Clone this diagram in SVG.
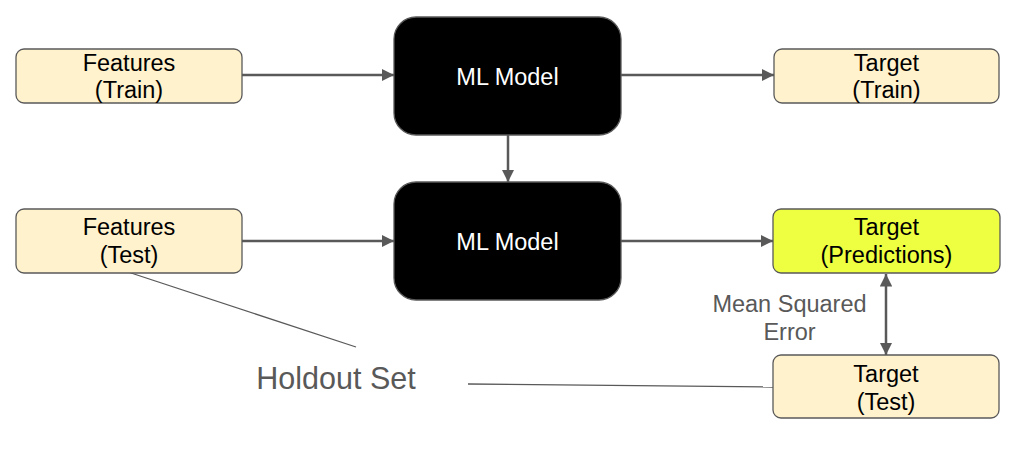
<svg xmlns="http://www.w3.org/2000/svg" width="1015" height="459" viewBox="0 0 1015 459">
<defs>
<marker id="ah" viewBox="0 0 10 10" refX="10" refY="5" markerWidth="5" markerHeight="5" orient="auto-start-reverse" markerUnits="strokeWidth">
<path d="M0,0 L10,5 L0,10 z" fill="#595959"/>
</marker>
<style>
.lt{fill:#fff2cc;stroke:#595959;stroke-width:1.3}
.pr{fill:#eeff41;stroke:#595959;stroke-width:1.3}
.ml{fill:#000000;stroke:#595959;stroke-width:1.3}
.t{font-family:"Liberation Sans",Arial,sans-serif;font-size:23.5px;text-anchor:middle;fill:#000}
.w{fill:#ffffff}
.g{font-family:"Liberation Sans",Arial,sans-serif;fill:#595959;text-anchor:middle}
.arr{stroke:#595959;stroke-width:2.5;fill:none;marker-end:url(#ah)}
.ln{stroke:#595959;stroke-width:1.3;fill:none}
</style>
</defs>
<g id="connectors">
<line class="arr" x1="242" y1="75" x2="394" y2="75"/>
<line class="arr" x1="621" y1="75" x2="774" y2="75"/>
<line class="arr" x1="508" y1="135" x2="508" y2="182"/>
<line class="arr" x1="242" y1="241" x2="394" y2="241"/>
<line class="arr" x1="621" y1="241" x2="773" y2="241"/>
<line class="arr" x1="886" y1="274" x2="886" y2="355" style="marker-start:url(#ah)"/>
<line class="ln" x1="128" y1="272" x2="356" y2="347"/>
<line class="ln" x1="468" y1="384" x2="773" y2="387"/>
</g>
<g id="features-train">
<rect class="lt" x="16" y="49" width="226" height="54" rx="8"/>
<text class="t" x="129" y="71">Features</text>
<text class="t" x="129" y="98">(Train)</text>
</g>
<g id="ml-model-1">
<rect class="ml" x="394" y="17" width="227" height="118" rx="22"/>
<text class="t w" x="507.5" y="85">ML Model</text>
</g>
<g id="target-train">
<rect class="lt" x="774" y="49" width="225" height="54" rx="8"/>
<text class="t" x="886.5" y="71">Target</text>
<text class="t" x="886.5" y="98">(Train)</text>
</g>
<g id="features-test">
<rect class="lt" x="16" y="209" width="226" height="64" rx="8"/>
<text class="t" x="129" y="235">Features</text>
<text class="t" x="129" y="263">(Test)</text>
</g>
<g id="ml-model-2">
<rect class="ml" x="394" y="182" width="227" height="118" rx="22"/>
<text class="t w" x="507.5" y="250">ML Model</text>
</g>
<g id="target-predictions">
<rect class="pr" x="773" y="209" width="227" height="64" rx="8"/>
<text class="t" x="886.5" y="235">Target</text>
<text class="t" x="886.5" y="263">(Predictions)</text>
</g>
<g id="target-test">
<rect class="lt" x="773" y="355" width="226" height="63" rx="8"/>
<text class="t" x="886" y="382">Target</text>
<text class="t" x="886" y="410">(Test)</text>
</g>
<g id="labels">
<text class="g" x="789.5" y="312" font-size="23.5">Mean Squared</text>
<text class="g" x="789.5" y="340" font-size="23.5">Error</text>
<text class="g" x="336" y="389" font-size="30.5">Holdout Set</text>
</g>
</svg>
